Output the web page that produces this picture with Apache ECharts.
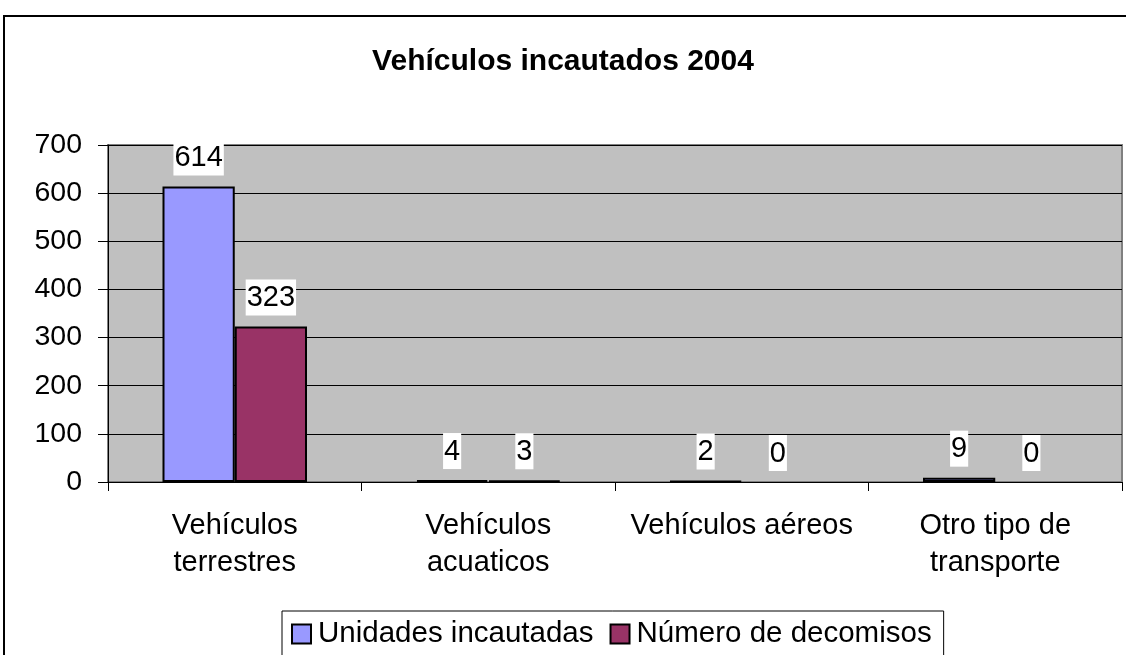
<!DOCTYPE html>
<html>
<head>
<meta charset="utf-8">
<script src="https://cdn.jsdelivr.net/npm/echarts@6/dist/echarts.min.js"></script>
<style>
html,body{margin:0;padding:0;background:#fff;}
#c{width:1126px;height:655px;}
</style>
</head>
<body>
<div id="c"></div>
<script>
const titleText = 'Vehículos incautados 2004';
const categories = ['Vehículos\nterrestres', 'Vehículos\nacuaticos', 'Vehículos aéreos', 'Otro tipo de\ntransporte'];
const seriesNames = ['Unidades incautadas', 'Número de decomisos'];
const unidades = [614, 4, 2, 9];
const decomisos = [323, 3, 0, 0];
const yTicks = [0, 100, 200, 300, 400, 500, 600, 700];

const FONT = "'Liberation Sans', Arial, sans-serif";
const colors = ['#9999FF', '#993366'];

function toData(arr) {
  return arr.map(v => ({ value: v, itemStyle: { borderWidth: v === 0 ? 0 : 2 } }));
}
const labelCfg = {
  show: true, position: 'top', distance: 11, color: '#000',
  fontSize: 29, fontFamily: FONT, backgroundColor: '#fff', padding: [4, 1, 3, 1]
};

const chart = echarts.init(document.getElementById('c'));
chart.setOption({
  animation: false,
  backgroundColor: '#fff',
  graphic: [{
    type: 'rect', shape: { x: 4, y: 16, width: 1300, height: 1000 },
    style: { fill: 'none', stroke: '#000', lineWidth: 2 }, silent: true, z: -1
  }],
  title: {
    text: titleText, left: 'center', top: 42,
    textStyle: { fontFamily: FONT, fontSize: 30, fontWeight: 'bold', color: '#000' }
  },
  legend: {
    left: 282, top: 611, orient: 'horizontal',
    borderColor: '#000', borderWidth: 1, padding: [8, 12, 20, 9],
    itemWidth: 19, itemHeight: 19, itemGap: 16,
    icon: 'rect',
    itemStyle: { borderColor: '#000', borderWidth: 2 },
    textStyle: { fontFamily: FONT, fontSize: 29.5, color: '#000', padding: [0, 0, 0, 2] },
    data: seriesNames
  },
  grid: {
    left: 108, top: 145, right: 4, bottom: 173,
    show: true, backgroundColor: '#C0C0C0', borderColor: '#808080', borderWidth: 2
  },
  xAxis: {
    type: 'category', data: categories,
    axisLine: { lineStyle: { color: '#000', width: 1 } },
    axisTick: { show: true, length: 9, lineStyle: { color: '#000' } },
    axisLabel: {
      color: '#000', fontFamily: FONT, fontSize: 29, margin: 25, lineHeight: 37,
      interval: 0
    }
  },
  yAxis: {
    type: 'value', min: yTicks[0], max: yTicks[yTicks.length - 1], interval: 100,
    axisLine: { show: true, lineStyle: { color: '#000', width: 1 } },
    axisTick: { show: true, length: 10, lineStyle: { color: '#000' } },
    axisLabel: { color: '#000', fontFamily: FONT, fontSize: 28.5, margin: 26 },
    splitLine: { show: true, lineStyle: { color: '#000', width: 1 } }
  },
  series: [
    {
      name: seriesNames[0], type: 'bar', data: toData(unidades),
      barGap: '0%', barCategoryGap: '43%',
      itemStyle: { color: colors[0], borderColor: '#000', borderWidth: 2 },
      label: labelCfg
    },
    {
      name: seriesNames[1], type: 'bar', data: toData(decomisos),
      barGap: '0%', barCategoryGap: '43%',
      itemStyle: { color: colors[1], borderColor: '#000', borderWidth: 2 },
      label: labelCfg
    }
  ]
});
</script>
</body>
</html>
